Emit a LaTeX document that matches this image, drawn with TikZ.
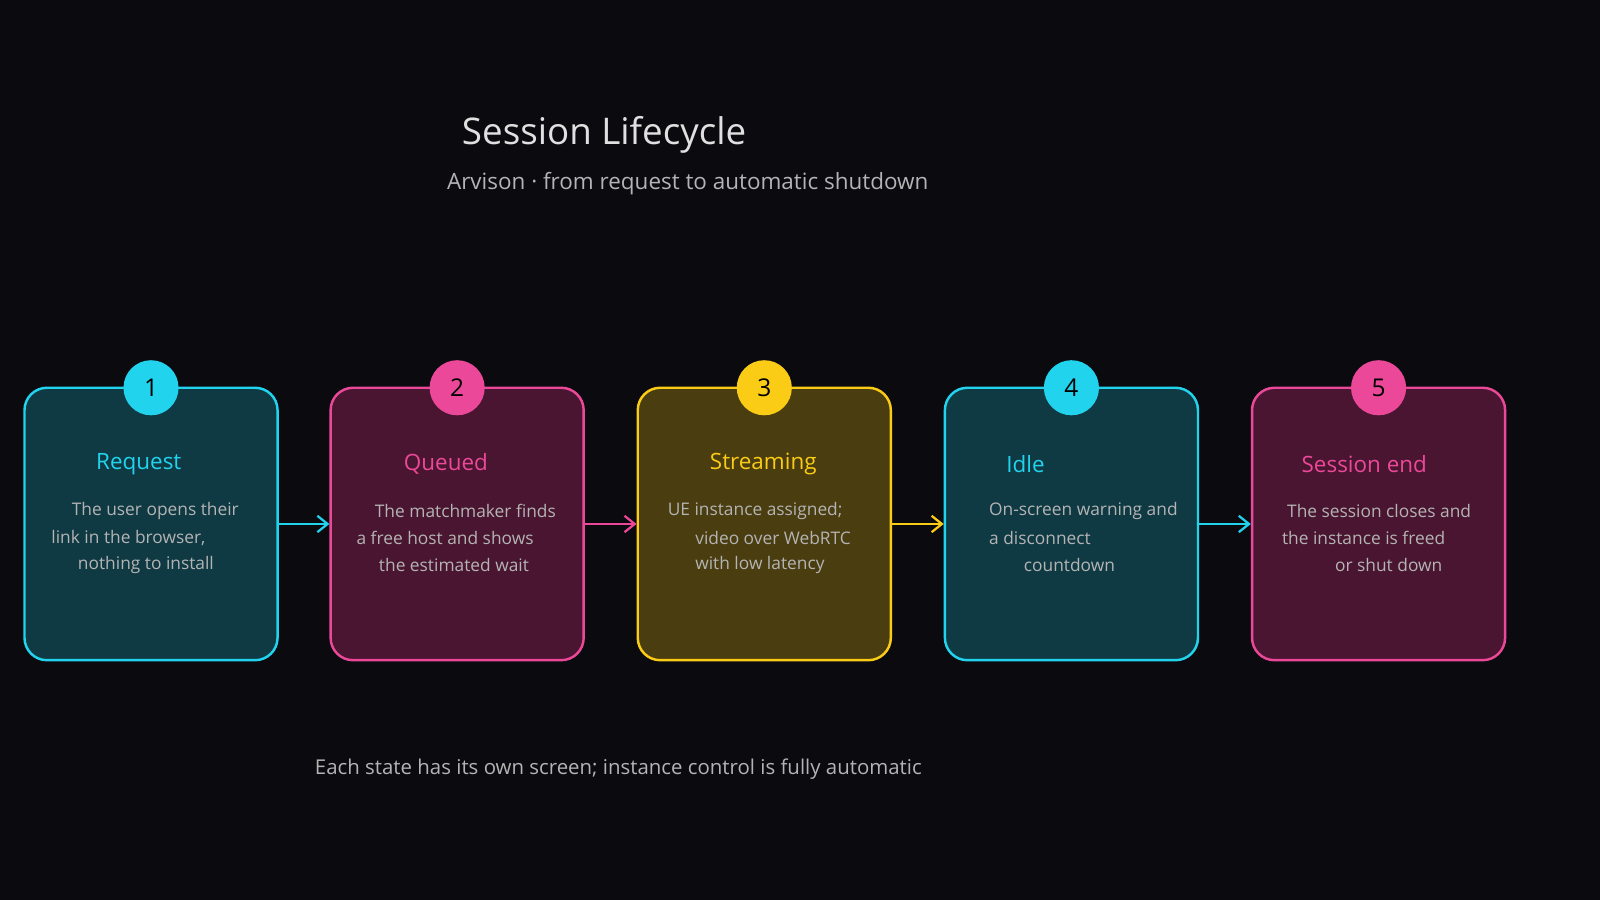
\documentclass[tikz,border=0pt]{standalone}
\usepackage{fontspec}
\setmainfont{Open Sans}
\usetikzlibrary{arrows.meta}
\definecolor{bg}{HTML}{0A0A0F}
\definecolor{cy}{HTML}{22D3EE}\definecolor{cyf}{HTML}{0F3A44}
\definecolor{pk}{HTML}{EC4899}\definecolor{pkf}{HTML}{4A1530}
\definecolor{ye}{HTML}{FACC15}\definecolor{yef}{HTML}{4A3D10}
\definecolor{bodyc}{HTML}{B4B4B4}
\begin{document}
\begin{tikzpicture}[x=0.5pt,y=-0.5pt,
 box/.style={draw=#1,line width=1.2pt,rounded corners=11pt,minimum width=124pt,minimum height=133.5pt,inner sep=0pt},
 num/.style={circle,fill=#1,minimum size=27pt,inner sep=0pt,text=black,font=\fontsize{12}{14}\selectfont},
 ttl/.style={text=#1,font=\fontsize{11}{13}\selectfont,anchor=center},
 bd/.style={text=bodyc,font=\fontsize{8.5}{10}\selectfont,anchor=west,inner sep=0pt},
 arr/.style={draw=#1,line width=1.1pt,-{Straight Barb[length=5pt,width=8pt]}}]
\fill[bg] (0,0) rectangle (1568,882);
\node[text=white!88!black,font=\fontsize{18}{22}\selectfont] (title) at (592,132) {Session Lifecycle};
\node[text=bodyc,font=\fontsize{11}{13}\selectfont] (sub) at (674,180) {Arvison · from request to automatic shutdown};
\node[text=bodyc,font=\fontsize{10}{12}\selectfont] (foot) at (606,754) {Each state has its own screen; instance control is fully automatic};
% boxes
\node[box=cy,fill=cyf] (b1) at (148,513.5) {};
\node[box=pk,fill=pkf] (b2) at (448,513.5) {};
\node[box=ye,fill=yef] (b3) at (749,513.5) {};
\node[box=cy,fill=cyf] (b4) at (1050,513.5) {};
\node[box=pk,fill=pkf] (b5) at (1351,513.5) {};
\node[num=cy] (n1) at (148,380) {1};
\node[num=pk] (n2) at (448,380) {2};
\node[num=ye] (n3) at (749,380) {3};
\node[num=cy] (n4) at (1050,380) {4};
\node[num=pk] (n5) at (1351,380) {5};
\node[ttl=cy] (t1) at (136,455) {Request};
\node[ttl=pk] (t2) at (437,455) {Queued};
\node[ttl=ye] (t3) at (748,455) {Streaming};
\node[ttl=cy] (t4) at (1005,455) {Idle};
\node[ttl=pk] (t5) at (1337,455) {Session end};
% bodies
\node[bd] (a1) at (70,501) {The user opens their};
\node[bd] (a2) at (50,527) {link in the browser,};
\node[bd] (a3) at (76,554) {nothing to install};
\node[bd] (c1) at (367,501) {The matchmaker finds};
\node[bd] (c2) at (349,527) {a free host and shows};
\node[bd] (c3) at (371,554) {the estimated wait};
\node[bd] (d1) at (654,501) {UE instance assigned;};
\node[bd] (d2) at (681,527) {video over WebRTC};
\node[bd] (d3) at (681,554) {with low latency};
\node[bd] (e1) at (969,501) {On-screen warning and};
\node[bd] (e2) at (969,527) {a disconnect};
\node[bd] (e3) at (1003,554) {countdown};
\node[bd] (f1) at (1261,501) {The session closes and};
\node[bd] (f2) at (1256,527) {the instance is freed};
\node[bd] (f3) at (1308,554) {or shut down};
% arrows
\draw[arr=cy] (b1.east) -- (b2.west);
\draw[arr=pk] (b2.east) -- (b3.west);
\draw[arr=ye] (b3.east) -- (b4.west);
\draw[arr=cy] (b4.east) -- (b5.west);
\end{tikzpicture}
\end{document}
